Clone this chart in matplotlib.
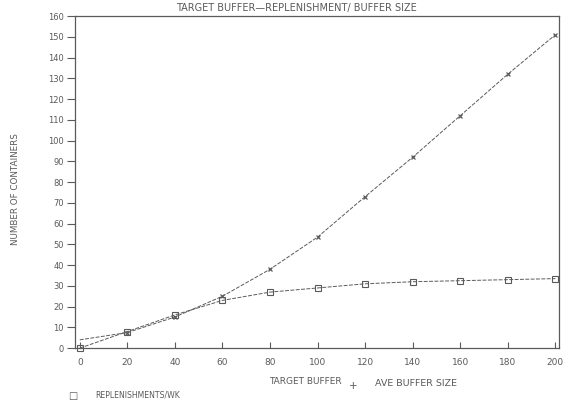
import matplotlib
matplotlib.use("Agg")
import matplotlib.pyplot as plt

# Dados (target buffer x numero de containers)
target_buffer = [0, 20, 40, 60, 80, 100, 120, 140, 160, 180, 200]
replenishments = [0, 8, 16, 23, 27, 29, 31, 32, 32.5, 33, 33.5]
ave_buffer = [4, 7.5, 15, 25, 38, 53.5, 73, 92, 112, 132, 151]

x_ticks = [0, 20, 40, 60, 80, 100, 120, 140, 160, 180, 200]
y_ticks = [0, 10, 20, 30, 40, 50, 60, 70, 80, 90, 100, 110, 120, 130, 140, 150, 160]

ink = "#5a5a5a"
plt.rcParams["font.family"] = "DejaVu Sans"

fig = plt.figure(figsize=(5.7, 4.12), dpi=100)
ax = fig.add_axes([0.1316, 0.155, 0.849, 0.806])

ax.plot(target_buffer, replenishments, linestyle=(0, (4, 1.5)), color=ink, lw=0.7,
        marker="s", markersize=4.5, markerfacecolor="none", markeredgecolor=ink,
        markeredgewidth=0.8, clip_on=False)
ax.plot(target_buffer[1:], ave_buffer[1:], linestyle="none", color=ink,
        marker="x", markersize=3.5, markeredgewidth=0.9, clip_on=False)
ax.plot(target_buffer, ave_buffer, linestyle=(0, (4, 1.5)), color=ink, lw=0.7,
        clip_on=False)

ax.set_xlim(-2, 201.5)
ax.set_ylim(0, 160)
ax.set_xticks(x_ticks)
ax.set_yticks(y_ticks)
ax.tick_params(axis="x", direction="in", length=4, color=ink, labelcolor=ink,
               labelsize=6.5, pad=7)
ax.tick_params(axis="y", direction="out", length=6, color=ink, labelcolor=ink,
               labelsize=6, pad=2)
for s in ax.spines.values():
    s.set_color(ink)
    s.set_linewidth(0.9)

fig.text(0.52, 0.992, "TARGET BUFFER\u2014REPLENISHMENT/ BUFFER SIZE", ha="center",
         va="top", fontsize=7, color=ink)
fig.text(0.028, 0.54, "NUMBER OF CONTAINERS", rotation=90, ha="center",
         va="center", fontsize=6.3, color=ink)
fig.text(0.536, 0.075, "TARGET BUFFER", ha="center", va="center",
         fontsize=6.5, color=ink)
fig.text(0.619, 0.064, "+", ha="center", va="center", fontsize=7.5, color=ink)
fig.text(0.658, 0.07, "AVE BUFFER SIZE", ha="left", va="center",
         fontsize=6.8, color=ink)
fig.text(0.128, 0.04, "\u25a1", ha="center", va="center", fontsize=7, color=ink)
fig.text(0.167, 0.042, "REPLENISHMENTS/WK", ha="left", va="center",
         fontsize=5.6, color=ink)

fig.savefig("out.png", dpi=100)
